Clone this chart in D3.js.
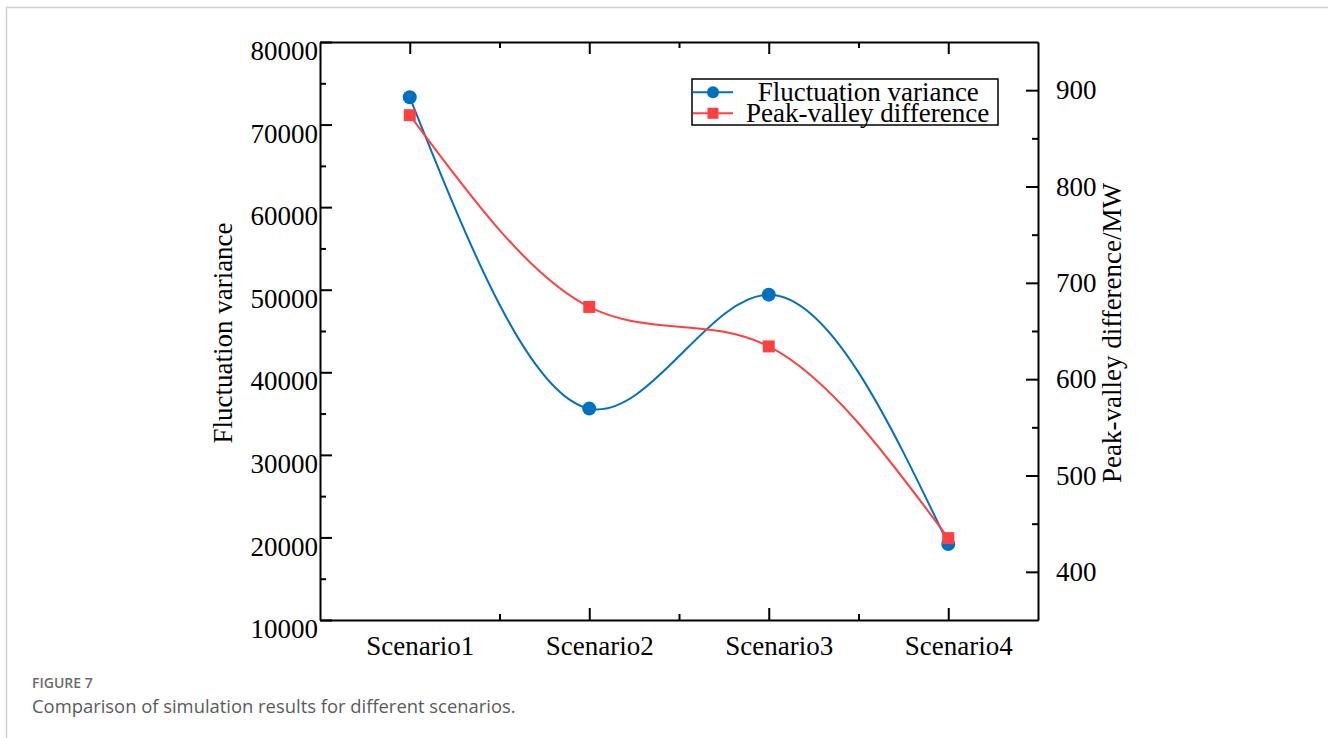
<!DOCTYPE html>
<html>
<head>
<meta charset="utf-8">
<script src="https://cdn.jsdelivr.net/npm/d3@7"></script>
<style>
  body { margin: 0; background: #fff; }
  svg { display: block; }
  .ax text { font-family: "Liberation Serif", "Times New Roman", serif; font-size: 27px; fill: #000; }
  .ax line, .ax path { stroke: #000; stroke-width: 2px; }
</style>
</head>
<body>
<div id="chart"></div>
<script>
// data
const scenarios = ["Scenario1", "Scenario2", "Scenario3", "Scenario4"];
const fluctuationVariance = [73300, 35600, 49400, 19200];
const peakValley = [874, 675, 634, 435];
const leftTicks = [10000, 20000, 30000, 40000, 50000, 60000, 70000, 80000];
const rightTicks = [400, 500, 600, 700, 800, 900];

const W = 1328, H = 738;
const blue = "#0070c0", red = "#ff4040";

const svg = d3.select("#chart").append("svg").attr("width", W).attr("height", H);

// page frame (left + top gray rule)
svg.append("path").attr("d", `M6.5,${H} V7.5 H${W}`)
  .attr("fill", "none").attr("stroke", "#d0d0d0").attr("stroke-width", 1.5);

// plot box
const box = {left: 320, right: 1038, top: 42, bottom: 620};

// scales
const x = d3.scaleLinear().domain([0.5, scenarios.length + 0.5]).range([box.left, box.right]);
const yL = d3.scaleLinear().domain([10000, 80000]).range([box.bottom, box.top]);
const yR = d3.scaleLinear().domain([350, 950]).range([box.bottom, box.top]);

const idx = scenarios.map((d, i) => i + 1);
const minorX = d3.range(1.5, scenarios.length, 1);

/* Axes */
//left axis with labels
const gL = svg.append("g").attr("class", "ax").attr("transform", `translate(${box.left},0)`)
  .call(d3.axisLeft(yL).tickValues(leftTicks).tickSizeInner(-12).tickSizeOuter(0).tickPadding(2).tickFormat(d3.format("d")));
gL.selectAll("text").attr("dy", "0.95em").attr("y", -8);
svg.append("g").attr("class", "ax").attr("transform", `translate(${box.left},0)`)
  .call(d3.axisLeft(yL).tickValues(d3.range(15000, 80000, 10000)).tickSize(-6).tickFormat(""))
  .select(".domain").remove();

//right axis with labels
svg.append("g").attr("class", "ax").attr("transform", `translate(${box.right},0)`)
  .call(d3.axisRight(yR).tickValues(rightTicks).tickSizeInner(-12).tickSizeOuter(0).tickPadding(18).tickFormat(d3.format("d")));
svg.append("g").attr("class", "ax").attr("transform", `translate(${box.right},0)`)
  .call(d3.axisRight(yR).tickValues(d3.range(450, 950, 100)).tickSize(-6).tickFormat(""))
  .select(".domain").remove();

//bottom axis: labels, then ticks (no tick under Scenario1 in the original)
const gB = svg.append("g").attr("class", "ax").attr("transform", `translate(0,${box.bottom})`)
  .call(d3.axisBottom(x).tickValues(idx).tickSize(0).tickSizeOuter(0).tickPadding(0).tickFormat(i => scenarios[i - 1]));
gB.selectAll("text").attr("dy", null).attr("y", 35).attr("dx", 10);
svg.append("g").attr("class", "ax").attr("transform", `translate(0,${box.bottom})`)
  .call(d3.axisBottom(x).tickValues(idx.slice(1)).tickSize(-12).tickFormat(""))
  .select(".domain").remove();
svg.append("g").attr("class", "ax").attr("transform", `translate(0,${box.bottom})`)
  .call(d3.axisBottom(x).tickValues(minorX).tickSize(-6).tickFormat(""))
  .select(".domain").remove();

//top axis
svg.append("g").attr("class", "ax").attr("transform", `translate(0,${box.top})`)
  .call(d3.axisTop(x).tickValues(idx).tickSizeInner(-12).tickSizeOuter(0).tickFormat(""));
svg.append("g").attr("class", "ax").attr("transform", `translate(0,${box.top})`)
  .call(d3.axisTop(x).tickValues(minorX).tickSize(-6).tickFormat(""))
  .select(".domain").remove();

// axis titles
svg.append("text").attr("transform", `translate(232,${(box.top + box.bottom) / 2 + 2}) rotate(-90)`)
  .attr("text-anchor", "middle").attr("font-family", "Liberation Serif, serif").attr("font-size", 27)
  .text("Fluctuation variance");
svg.append("text").attr("transform", `translate(1121,${(box.top + box.bottom) / 2 + 2}) rotate(-90)`)
  .attr("text-anchor", "middle").attr("font-family", "Liberation Serif, serif").attr("font-size", 27)
  .text("Peak-valley difference/MW");

/* Lines */
const lineL = d3.line().x((d, i) => x(i + 1)).y(d => yL(d)).curve(d3.curveNatural);
const lineR = d3.line().x((d, i) => x(i + 1)).y(d => yR(d)).curve(d3.curveNatural);

svg.append("path").datum(fluctuationVariance).attr("fill", "none").attr("stroke", blue)
  .attr("stroke-width", 2).attr("d", lineL);
svg.append("path").datum(peakValley).attr("fill", "none").attr("stroke", red)
  .attr("stroke-width", 2).attr("d", lineR);

svg.append("g").selectAll("circle").data(fluctuationVariance).join("circle")
  .attr("cx", (d, i) => x(i + 1)).attr("cy", d => yL(d)).attr("r", 7).attr("fill", blue);
svg.append("g").selectAll("rect").data(peakValley).join("rect")
  .attr("x", (d, i) => x(i + 1) - 6).attr("y", d => yR(d) - 6)
  .attr("width", 12).attr("height", 12).attr("fill", red);

/* Legend */
const leg = svg.append("g").attr("transform", "translate(692,79)");
leg.append("rect").attr("width", 306).attr("height", 46).attr("fill", "#fff")
  .attr("stroke", "#000").attr("stroke-width", 1.5);
const legItems = [
  {name: "Fluctuation variance", color: blue, shape: "circle", y: 13.3, tx: 65.7},
  {name: "Peak-valley difference", color: red, shape: "square", y: 34.3, tx: 54}
];
legItems.forEach(it => {
  leg.append("line").attr("x1", 1).attr("x2", 41).attr("y1", it.y).attr("y2", it.y)
    .attr("stroke", it.color).attr("stroke-width", 2);
  if (it.shape === "circle")
    leg.append("circle").attr("cx", 21).attr("cy", it.y).attr("r", 6).attr("fill", it.color);
  else
    leg.append("rect").attr("x", 15.5).attr("y", it.y - 5.5).attr("width", 11).attr("height", 11).attr("fill", it.color);
  leg.append("text").attr("x", it.tx).attr("y", it.y + 8.5)
    .attr("font-family", "Liberation Serif, serif").attr("font-size", 27).text(it.name);
});

/* Caption */
svg.append("text").attr("x", 32).attr("y", 688).attr("font-family", "Open Sans, sans-serif")
  .attr("font-size", 14).attr("font-weight", 600).attr("fill", "#6b6b6b").text("FIGURE 7");
svg.append("text").attr("x", 32).attr("y", 713).attr("font-family", "Open Sans, sans-serif")
  .attr("font-size", 18.4).attr("fill", "#5a5a5a").text("Comparison of simulation results for different scenarios.");
</script>
</body>
</html>
